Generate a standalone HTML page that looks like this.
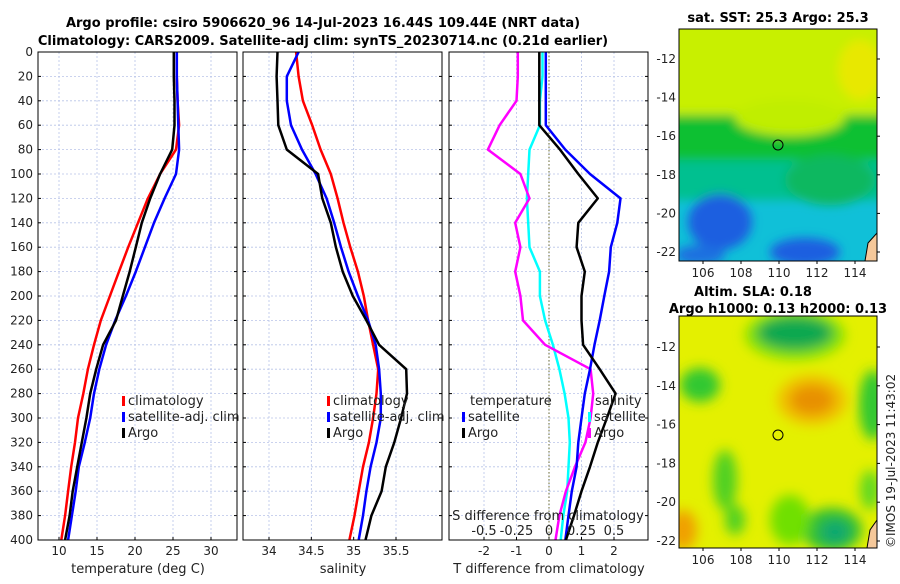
<!DOCTYPE html>
<html><head><meta charset="utf-8"><style>
body{margin:0;background:#fff;width:900px;height:580px;overflow:hidden;font-family:"DejaVu Sans","Liberation Sans",sans-serif}
svg text{font-family:"DejaVu Sans","Liberation Sans",sans-serif}
</style></head><body>
<svg id="fig" width="900" height="580" xmlns="http://www.w3.org/2000/svg">
<defs>
<clipPath id="c1"><rect x="38" y="52" width="199" height="488"/></clipPath>
<clipPath id="c2"><rect x="243" y="52" width="199" height="488"/></clipPath>
<clipPath id="c3"><rect x="449" y="52" width="199" height="488"/></clipPath>
<filter id="bl1" x="-20%" y="-20%" width="140%" height="140%"><feGaussianBlur stdDeviation="5"/></filter>
<filter id="bl2" x="-20%" y="-20%" width="140%" height="140%"><feGaussianBlur stdDeviation="6"/></filter>
<clipPath id="m1"><rect x="679" y="29" width="198" height="232"/></clipPath>
<clipPath id="m2"><rect x="679" y="316" width="198" height="232"/></clipPath>
</defs>
<text x="323" y="27" text-anchor="middle" font-size="13" font-weight="bold">Argo profile: csiro 5906620_96 14-Jul-2023 16.44S 109.44E (NRT data)</text>
<text x="323" y="45" text-anchor="middle" font-size="13" font-weight="bold">Climatology: CARS2009. Satellite-adj clim: synTS_20230714.nc (0.21d earlier)</text>

<g clip-path="url(#m1)">
<rect x="679" y="29" width="198" height="232" fill="#10c0d8"/>
<g filter="url(#bl1)">
<rect x="660" y="10" width="240" height="110" fill="#c8f000"/>
<rect x="660" y="115" width="240" height="48" fill="#10c030"/>
<ellipse cx="790" cy="118" rx="55" ry="18" fill="#c0ee00"/>
<ellipse cx="860" cy="70" rx="22" ry="30" fill="#e8e800"/>
<rect x="660" y="160" width="240" height="40" fill="#00c090"/>
<ellipse cx="830" cy="180" rx="45" ry="25" fill="#10b860"/>
<ellipse cx="720" cy="222" rx="32" ry="28" fill="#1a5fe0"/>
<ellipse cx="805" cy="252" rx="35" ry="14" fill="#1a5fe0"/>
<ellipse cx="700" cy="255" rx="25" ry="10" fill="#1a70e0"/>
</g>
<polygon points="865,261 868,243 877,233 877,261" fill="#f5c89a" stroke="#000"/>
</g>
<rect x="679" y="29" width="198" height="232" fill="none" stroke="#000"/>
<circle cx="778" cy="145" r="5" fill="none" stroke="#000"/>
<text x="778" y="22" text-anchor="middle" font-size="13" font-weight="bold">sat. SST: 25.3 Argo: 25.3</text>

<g clip-path="url(#m2)">
<rect x="679" y="316" width="198" height="232" fill="#e4f000"/>
<g filter="url(#bl2)">
<ellipse cx="795" cy="335" rx="50" ry="25" fill="#80e000"/>
<ellipse cx="795" cy="333" rx="38" ry="17" fill="#10a850"/>
<ellipse cx="700" cy="385" rx="20" ry="17" fill="#30c830"/>
<ellipse cx="812" cy="400" rx="35" ry="25" fill="#f0c000"/>
<ellipse cx="812" cy="400" rx="22" ry="15" fill="#e89000"/>
<ellipse cx="873" cy="405" rx="14" ry="35" fill="#30c830"/>
<ellipse cx="725" cy="480" rx="12" ry="30" fill="#50d020"/>
<ellipse cx="735" cy="520" rx="10" ry="15" fill="#50d020"/>
<ellipse cx="832" cy="530" rx="30" ry="22" fill="#30c030"/>
<ellipse cx="835" cy="532" rx="15" ry="12" fill="#10a870"/>
<ellipse cx="790" cy="520" rx="20" ry="25" fill="#70e000"/>
<ellipse cx="683" cy="530" rx="14" ry="20" fill="#f0a000"/>
<ellipse cx="870" cy="490" rx="10" ry="20" fill="#60d820"/>
</g>
<polygon points="867,548 870,530 877,520 877,548" fill="#f5c89a" stroke="#000"/>
</g>
<rect x="679" y="316" width="198" height="232" fill="none" stroke="#000"/>
<circle cx="778" cy="435" r="5" fill="none" stroke="#000"/>
<text x="753" y="296" text-anchor="middle" font-size="13" font-weight="bold">Altim. SLA: 0.18</text>
<text x="778" y="313" text-anchor="middle" font-size="13" font-weight="bold">Argo h1000: 0.13 h2000: 0.13</text>
<text transform="translate(895,548) rotate(-90)" font-size="12" fill="#222">©IMOS 19-Jul-2023 11:43:02</text>
</svg>
<script>
const depths=[0,20,40,60,80,100,120,140,160,180,200,220,240,260,280,300,320,340,360,380,400];
const tClim=[25.5,25.5,25.6,25.8,25.4,23.3,21.7,20.4,19.1,17.9,16.7,15.5,14.6,13.8,13.2,12.5,12.1,11.6,11.2,10.8,10.3];
const tSat=[25.5,25.5,25.6,25.7,25.8,25.4,23.9,22.5,21.3,20.1,18.8,17.4,16.2,15.3,14.6,14.1,13.4,12.6,12.2,11.7,11.2];
const tArgo=[25.1,25.1,25.2,25.2,24.9,23.3,22.0,20.9,20.1,19.3,18.4,17.5,15.8,14.9,14.1,13.6,13.0,12.4,11.8,11.4,10.8];
const sClim=[34.32,34.35,34.40,34.51,34.61,34.73,34.81,34.88,34.96,35.05,35.12,35.17,35.23,35.29,35.27,35.23,35.18,35.11,35.06,35.01,34.95];
const sSat=[34.35,34.21,34.21,34.26,34.39,34.55,34.68,34.77,34.85,34.94,35.05,35.17,35.26,35.30,35.32,35.32,35.27,35.20,35.15,35.11,35.06];
const sArgo=[34.10,34.09,34.10,34.11,34.21,34.58,34.63,34.73,34.79,34.87,34.99,35.15,35.30,35.62,35.63,35.56,35.48,35.38,35.33,35.21,35.14];
const dTSat=[-0.1,-0.1,-0.1,-0.1,0.5,1.26,2.2,2.1,1.9,1.85,1.7,1.56,1.4,1.26,1.1,1.0,0.9,0.85,0.7,0.6,0.5];
const dTArgo=[-0.3,-0.3,-0.3,-0.3,0.34,0.9,1.5,0.9,0.85,1.1,1.0,1.0,1.05,1.56,2.05,1.78,1.5,1.26,1.0,0.77,0.52];
const dSSat=[-0.05,-0.05,-0.07,-0.07,-0.15,-0.16,-0.17,-0.16,-0.15,-0.07,-0.07,-0.03,0.03,0.08,0.12,0.15,0.16,0.15,0.14,0.11,0.09];
const dSArgo=[-0.24,-0.24,-0.25,-0.38,-0.47,-0.22,-0.15,-0.26,-0.22,-0.26,-0.22,-0.2,-0.03,0.32,0.34,0.32,0.28,0.2,0.13,0.08,0.05];
const tTicks=[10,15,20,25,30], sTicks=[34,34.5,35,35.5], dTTicks=[-2,-1,0,1,2], dSTicks=[-0.5,-0.25,0,0.25,0.5];
const sDTLabels=["-0.5","-0.25","0","0.25","0.5"];
const yTicks=[0,20,40,60,80,100,120,140,160,180,200,220,240,260,280,300,320,340,360,380,400];
const svg=document.getElementById('fig');const NS='http://www.w3.org/2000/svg';
function mk(t,a,p){const e=document.createElementNS(NS,t);for(const k in a)e.setAttribute(k,a[k]);(p||svg).appendChild(e);return e;}
const Y0=52,Y1=540;
function y(d){return Y0+(d/400)*(Y1-Y0);}
function lin(v0,p0,v1,p1){return v=>p0+(v-v0)*(p1-p0)/(v1-v0);}
const panels=[
 {x0:38,x:lin(10,59,30,211),ticks:tTicks,lbl:tTicks.map(String),title:'temperature (deg C)',name:'temperature-panel',clip:'c1'},
 {x0:243,x:lin(34,269,35.5,396),ticks:sTicks,lbl:["34","34.5","35","35.5"],title:'salinity',name:'salinity-panel',clip:'c2'},
 {x0:449,x:lin(-2,484,2,614),ticks:dTTicks,lbl:dTTicks.map(String),title:'T difference from climatology',name:'difference-panel',clip:'c3'}];
panels.forEach((p,i)=>{
 const g=mk('g',{});
 
 
 yTicks.forEach(d=>{const l=mk('line',{x1:p.x0,x2:p.x0+199,y1:y(d),y2:y(d),stroke:'#b8c4e8','stroke-dasharray':'2,2','stroke-width':0.8},g);
  
  mk('line',{x1:p.x0,x2:p.x0+3,y1:y(d),y2:y(d),stroke:'#000'},g);mk('line',{x1:p.x0+196,x2:p.x0+199,y1:y(d),y2:y(d),stroke:'#000'},g);});
 p.ticks.forEach((v,j)=>{const xx=p.x(v);const l=mk('line',{x1:xx,x2:xx,y1:Y0,y2:Y1,stroke:'#b8c4e8','stroke-dasharray':'2,2','stroke-width':0.8},g);
  
  mk('line',{x1:xx,x2:xx,y1:Y1-3,y2:Y1,stroke:'#000'},g);
  const t=mk('text',{x:xx,y:555,'text-anchor':'middle','font-size':12,fill:'#222'},g);t.textContent=p.lbl[j];
  });
 const tt=mk('text',{x:p.x0+100,y:573,'text-anchor':'middle','font-size':13,fill:'#222'},g);tt.textContent=p.title;
 
 p.g=g;
});
yTicks.forEach(d=>{const t=mk('text',{x:33,y:y(d)+4,'text-anchor':'end','font-size':12,fill:'#222'});t.textContent=d;
 });
const zl=mk('line',{x1:panels[2].x(0),x2:panels[2].x(0),y1:Y0,y2:Y1,stroke:'#6b6b30','stroke-dasharray':'1.5,2'});

function series(p,xf,vals,col,name){const pts=vals.map((v,i)=>xf(v).toFixed(1)+','+y(depths[i]).toFixed(1)).join(' ');
 const e=mk('polyline',{points:pts,fill:'none',stroke:col,'stroke-width':2.5,'stroke-linejoin':'round','clip-path':'url(#'+p.clip+')'});
 }
series(panels[0],panels[0].x,tClim,'#ff0000','temp-climatology-line');
series(panels[0],panels[0].x,tSat,'#0000ff','temp-satellite-line');
series(panels[0],panels[0].x,tArgo,'#000','temp-argo-line');
series(panels[1],panels[1].x,sClim,'#ff0000','sal-climatology-line');
series(panels[1],panels[1].x,sSat,'#0000ff','sal-satellite-line');
series(panels[1],panels[1].x,sArgo,'#000','sal-argo-line');
const sx=lin(0,549,0.5,614);
series(panels[2],sx,dSSat,'#00ffff','sdiff-satellite-line');
series(panels[2],sx,dSArgo,'#ff00ff','sdiff-argo-line');
series(panels[2],panels[2].x,dTSat,'#0000ff','tdiff-satellite-line');
series(panels[2],panels[2].x,dTArgo,'#000','tdiff-argo-line');
panels.forEach(p=>{const r=mk('rect',{x:p.x0,y:Y0,width:199,height:488,fill:'none',stroke:'#000'});});
function leg(x,yy,col,txt,name){mk('rect',{x:x,y:yy-9,width:3,height:10,fill:col});const t=mk('text',{x:x+6,y:yy,'font-size':13,fill:'#222'});t.textContent=txt;
 }
leg(122,405,'#ff0000','climatology','legend-climatology');leg(122,421,'#0000ff','satellite-adj. clim','legend-satellite');leg(122,437,'#000','Argo','legend-argo');
leg(327,405,'#ff0000','climatology','legend-climatology');leg(327,421,'#0000ff','satellite-adj. clim','legend-satellite');leg(327,437,'#000','Argo','legend-argo');
const lt=mk('text',{x:470,y:405,'font-size':13,fill:'#222'});lt.textContent='temperature';
leg(462,421,'#0000ff','satellite','legend-t-satellite');leg(462,437,'#000','Argo','legend-t-argo');
const ls=mk('text',{x:595,y:405,'font-size':13,fill:'#222'});ls.textContent='salinity';
leg(588,421,'#00ffff','satellite','legend-s-satellite');leg(588,437,'#ff00ff','Argo','legend-s-argo');
const st=mk('text',{x:548,y:520,'text-anchor':'middle','font-size':13,fill:'#222'});st.textContent='S difference from climatology';
dSTicks.forEach((v,j)=>{const t=mk('text',{x:sx(v),y:535,'text-anchor':'middle','font-size':13,fill:'#222'});t.textContent=sDTLabels[j];});
const mxt=[106,108,110,112,114], myt=[-12,-14,-16,-18,-20,-22];
const mx=lin(106,703,114,855);
[[29,lin(-12,59,-22,252),261],[316,lin(-12,347,-22,541),548]].forEach(([top,my,bot],k)=>{
 mxt.forEach(v=>{mk('line',{x1:mx(v),x2:mx(v),y1:bot,y2:bot+3,stroke:'#000'});const t=mk('text',{x:mx(v),y:bot+16,'text-anchor':'middle','font-size':12,fill:'#222'});t.textContent=v;});
 myt.forEach(v=>{mk('line',{x1:877,x2:880,y1:my(v),y2:my(v),stroke:'#000'});const t=mk('text',{x:676,y:my(v)+4,'text-anchor':'end','font-size':12,fill:'#222'});t.textContent=v;});
});
</script>
</body></html>
